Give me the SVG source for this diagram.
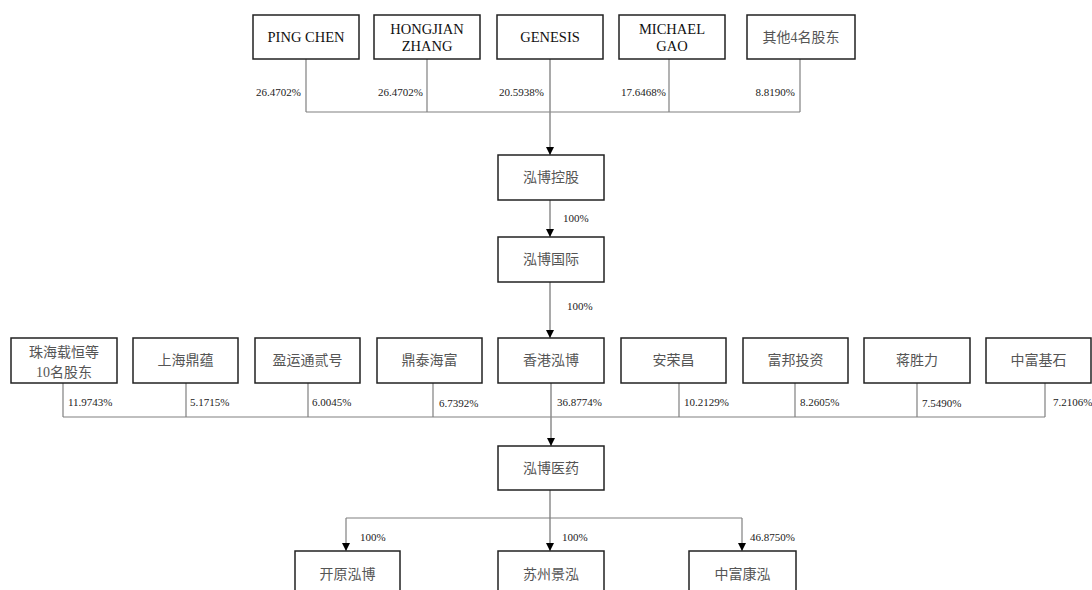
<svg xmlns="http://www.w3.org/2000/svg" width="1092" height="590" viewBox="0 0 1092 590">
<defs>
<style>
.box{fill:#fff;stroke:#222;stroke-width:1.5}
.en{font-family:"Liberation Serif","Times New Roman",serif;font-size:14.5px;fill:#111;text-anchor:middle}
.cn{font-family:"Liberation Serif","Noto Sans CJK SC",serif;font-size:14px;fill:#555;text-anchor:middle}
.pct{font-family:"Liberation Serif","Times New Roman",serif;font-size:11px;fill:#222}
.pr{text-anchor:end}
.ln{fill:none;stroke:#808080;stroke-width:1.2}
.arr{fill:none;stroke:#8c8c8c;stroke-width:1.5}
</style>
<marker id="ah" viewBox="0 0 8 8" refX="8" refY="4" markerWidth="8" markerHeight="8" markerUnits="userSpaceOnUse" orient="auto">
<path d="M0,0 L8,4 L0,8 Z" fill="#000"/>
</marker>
</defs>
<rect width="1092" height="590" fill="#fff"/>

<g id="connectors">
<path class="ln" d="M306,59 V112 M427,59 V112 M669,59 V112 M800,59 V112 M306,112 H800"/>
<path class="arr" d="M550,59 V155" marker-end="url(#ah)"/>
<path class="arr" d="M550,200 V237" marker-end="url(#ah)"/>
<path class="arr" d="M550,282 V338" marker-end="url(#ah)"/>
<path class="ln" d="M63,383 V417 M186,383 V417 M308,383 V417 M433,383 V417 M679,383 V417 M795,383 V417 M917,383 V417 M1045,383 V417 M63,417 H1045"/>
<path class="arr" d="M551,383 V446" marker-end="url(#ah)"/>
<path class="arr" d="M550,490 V551" marker-end="url(#ah)"/>
<path class="ln" d="M346,518 H742"/>
<path class="ln" d="M346,518 V551" marker-end="url(#ah)"/>
<path class="ln" d="M742,518 V551" marker-end="url(#ah)"/>
</g>

<g id="labels">
<text class="pct pr" x="301" y="96">26.4702%</text>
<text class="pct pr" x="423" y="96">26.4702%</text>
<text class="pct pr" x="544" y="96">20.5938%</text>
<text class="pct pr" x="666" y="96">17.6468%</text>
<text class="pct pr" x="795" y="96">8.8190%</text>
<text class="pct" x="563" y="222">100%</text>
<text class="pct" x="567" y="310">100%</text>
<text class="pct" x="68" y="406">11.9743%</text>
<text class="pct" x="190" y="406">5.1715%</text>
<text class="pct" x="312" y="406">6.0045%</text>
<text class="pct" x="439" y="407">6.7392%</text>
<text class="pct" x="557" y="406">36.8774%</text>
<text class="pct" x="684" y="406">10.2129%</text>
<text class="pct" x="800" y="406">8.2605%</text>
<text class="pct" x="922" y="407">7.5490%</text>
<text class="pct" x="1053" y="406">7.2106%</text>
<text class="pct" x="360" y="541">100%</text>
<text class="pct" x="562" y="541">100%</text>
<text class="pct" x="750" y="541">46.8750%</text>
</g>

<g id="n-pingchen"><rect class="box" x="253" y="15" width="106" height="44"/><text class="en" x="306" y="42">PING CHEN</text></g>
<g id="n-hongjian"><rect class="box" x="374" y="15" width="106" height="44"/><text class="en" x="427" y="34">HONGJIAN</text><text class="en" x="427" y="51">ZHANG</text></g>
<g id="n-genesis"><rect class="box" x="497" y="15" width="106" height="44"/><text class="en" x="550" y="42">GENESIS</text></g>
<g id="n-michael"><rect class="box" x="619" y="15" width="106" height="44"/><text class="en" x="672" y="34">MICHAEL</text><text class="en" x="672" y="51">GAO</text></g>
<g id="n-other4"><rect class="box" x="747" y="15" width="108" height="44"/><text class="cn" x="801" y="42">其他4名股东</text></g>

<g id="n-hbkg"><rect class="box" x="498" y="155" width="106" height="45"/><text class="cn" x="551" y="182">泓博控股</text></g>
<g id="n-hbgj"><rect class="box" x="498" y="237" width="106" height="45"/><text class="cn" x="551" y="264">泓博国际</text></g>

<g id="n-zhuhai"><rect class="box" x="11" y="338" width="106" height="45"/><text class="cn" x="64" y="357">珠海载恒等</text><text class="cn" x="64" y="377">10名股东</text></g>
<g id="n-shdy"><rect class="box" x="133" y="338" width="105" height="45"/><text class="cn" x="185.5" y="365">上海鼎蕴</text></g>
<g id="n-yyt"><rect class="box" x="255" y="338" width="105" height="45"/><text class="cn" x="307.5" y="365">盈运通贰号</text></g>
<g id="n-dthf"><rect class="box" x="377" y="338" width="105" height="45"/><text class="cn" x="429.5" y="365">鼎泰海富</text></g>
<g id="n-xghb"><rect class="box" x="498" y="338" width="106" height="45"/><text class="cn" x="551" y="365">香港泓博</text></g>
<g id="n-arc"><rect class="box" x="621" y="338" width="105" height="45"/><text class="cn" x="673.5" y="365">安荣昌</text></g>
<g id="n-fbtz"><rect class="box" x="743" y="338" width="105" height="45"/><text class="cn" x="795.5" y="365">富邦投资</text></g>
<g id="n-jsl"><rect class="box" x="864" y="338" width="106" height="45"/><text class="cn" x="917" y="365">蒋胜力</text></g>
<g id="n-zfjs"><rect class="box" x="986" y="338" width="105" height="45"/><text class="cn" x="1038.5" y="365">中富基石</text></g>

<g id="n-hbyy"><rect class="box" x="498" y="446" width="106" height="44"/><text class="cn" x="551" y="473">泓博医药</text></g>

<g id="n-kyhb"><rect class="box" x="295" y="551" width="105" height="45"/><text class="cn" x="347.5" y="579">开原泓博</text></g>
<g id="n-szjh"><rect class="box" x="498" y="551" width="106" height="45"/><text class="cn" x="551" y="579">苏州景泓</text></g>
<g id="n-zfkh"><rect class="box" x="689" y="551" width="107" height="45"/><text class="cn" x="742.5" y="579">中富康泓</text></g>
</svg>
